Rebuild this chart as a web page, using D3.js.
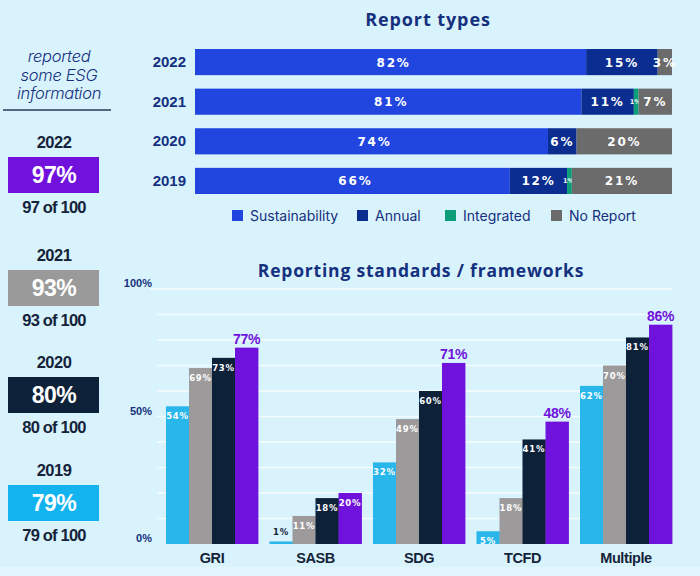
<!DOCTYPE html>
<html><head><meta charset="utf-8">
<script src="https://cdn.jsdelivr.net/npm/d3@7"></script>
<style>
html,body{margin:0;padding:0;background:#d9f3fc;}
svg{display:block;}
</style></head><body>
<svg id="c" width="700" height="576"></svg>
<script>
// ---- Data ----
const summaryYears = ["2022", "2021", "2020", "2019"];
const summaryPct = [97, 93, 80, 79];
const summaryColors = ["#7012dc", "#9a9a9a", "#0d2139", "#12b3ee"];

const reportYears = ["2022", "2021", "2020", "2019"];
const reportTypes = ["Sustainability", "Annual", "Integrated", "No Report"];
const sustainability = [82, 81, 74, 66];
const annual = [15, 11, 6, 12];
const integrated = [0, 1, 0, 1];
const noReport = [3, 7, 20, 21];
const typeColors = ["#2146e0", "#0a2d8f", "#0c9e78", "#6b6b6b"];

const frameworks = ["GRI", "SASB", "SDG", "TCFD", "Multiple"];
const fwSeries = ["s1", "s2", "s3", "s4"];
const fw1 = [54, 1, 32, 5, 62];
const fw2 = [69, 11, 49, 18, 70];
const fw3 = [73, 18, 60, 41, 81];
const fw4 = [77, 20, 71, 48, 86];
const fwColors = ["#29b6ea", "#9c9a9a", "#0d2139", "#6f12dc"];
const yTicks = [0, 50, 100];

const svg = d3.select("#c");
const navy = "#14307e";
const dark = "#15233a";

svg.append("rect").attr("x",0).attr("y",567).attr("width",700).attr("height",9).attr("fill","#e4f6fd");

// ---- Left summary panel ----
const left = svg.append("g");
["reported","some ESG","information"].forEach((t,i)=>{
  left.append("text").attr("x",59).attr("y",62+i*18.5).attr("text-anchor","middle")
    .attr("font-family","Inter, 'Open Sans', sans-serif").attr("font-style","italic").attr("font-weight",300)
    .attr("font-size",16.5).attr("fill",navy).attr("letter-spacing",-0.3).text(t);
});
left.append("line").attr("x1",3).attr("x2",111).attr("y1",110).attr("y2",110).attr("stroke","#243a5e").attr("stroke-width",1.3);

const groupY = [142, 255, 362, 470];
summaryYears.forEach((yr,i)=>{
  const gy = groupY[i];
  left.append("text").attr("x",54).attr("y",gy+6).attr("text-anchor","middle")
    .attr("font-family","'Liberation Sans', Arial, sans-serif").attr("font-weight","bold")
    .attr("font-size",16.5).attr("fill",dark).attr("letter-spacing",-0.5).text(yr);
  left.append("rect").attr("x",8).attr("y",gy+15).attr("width",91).attr("height",36).attr("fill",summaryColors[i]);
  left.append("text").attr("x",54).attr("y",gy+41).attr("text-anchor","middle")
    .attr("font-family","'Liberation Sans', Arial, sans-serif").attr("font-weight","bold")
    .attr("font-size",23).attr("fill","#fff").attr("letter-spacing",-0.5).text(summaryPct[i]+"%");
  left.append("text").attr("x",54).attr("y",gy+71).attr("text-anchor","middle")
    .attr("font-family","'Liberation Sans', Arial, sans-serif").attr("font-weight","bold")
    .attr("font-size",16.5).attr("fill",dark).attr("letter-spacing",-0.8).text(summaryPct[i]+" of 100");
});

// ---- Top chart: Report types ----
svg.append("text").attr("x",428).attr("y",26).attr("text-anchor","middle")
  .attr("font-family","'Open Sans', sans-serif").attr("font-weight","bold")
  .attr("font-size",18).attr("fill",navy).attr("letter-spacing",0.9).text("Report types");

const xTop = d3.scaleLinear().domain([0,100]).range([195,672]);
const yTop = d3.scaleBand().domain(reportYears).range([49,194]).paddingInner(0.34).paddingOuter(0);
const typeArrays = [sustainability, annual, integrated, noReport];
const rows = reportYears.map((y,i)=>{
  const o = {year:y};
  reportTypes.forEach((t,j)=>o[t]=typeArrays[j][i]);
  return o;
});
const stacked = d3.stack().keys(reportTypes)(rows);
const gTop = svg.append("g");
stacked.forEach((layer,j)=>{
  gTop.selectAll(null).data(layer).enter().append("rect")
    .attr("x",d=>xTop(d[0])).attr("width",d=>xTop(d[1])-xTop(d[0]))
    .attr("y",d=>yTop(d.data.year)).attr("height",yTop.bandwidth())
    .attr("fill",typeColors[j]);
  gTop.selectAll(null).data(layer.filter(d=>d[1]-d[0]>0)).enter().append("text")
    .attr("x",d=>{
      const v=d[1]-d[0];
      return (xTop(d[0])+xTop(d[1]))/2 + (v<2 ? -1 : 0) + (j===0?3:0);
    })
    .attr("y",d=>yTop(d.data.year)+yTop.bandwidth()/2+ ((d[1]-d[0])<2?2.5:4.5))
    .attr("text-anchor","middle")
    .attr("font-family","'DejaVu Sans', sans-serif").attr("font-weight","bold")
    .attr("font-size",d=>(d[1]-d[0])<2?6.5:12)
    .attr("letter-spacing",d=>(d[1]-d[0])<2?0:1.8)
    .attr("fill","#fff").text(d=>(d[1]-d[0])+"%");
});
reportYears.forEach(y=>{
  gTop.append("text").attr("x",186).attr("y",yTop(y)+yTop.bandwidth()/2+5).attr("text-anchor","end")
    .attr("font-family","'Liberation Sans', Arial, sans-serif").attr("font-weight","bold")
    .attr("font-size",15).attr("fill",navy).text(y);
});
// legend
const legX = [232, 357, 445, 551];
reportTypes.forEach((t,i)=>{
  gTop.append("rect").attr("x",legX[i]).attr("y",210).attr("width",11).attr("height",11).attr("fill",typeColors[i]);
  gTop.append("text").attr("x",legX[i]+18).attr("y",220.5)
    .attr("font-family","Inter, 'Noto Sans', sans-serif").attr("font-size",14).attr("fill",navy).text(t);
});

// ---- Bottom chart: Reporting standards ----
svg.append("text").attr("x",421).attr("y",277).attr("text-anchor","middle")
  .attr("font-family","'Open Sans', sans-serif").attr("font-weight","bold")
  .attr("font-size",17.5).attr("fill",navy).attr("letter-spacing",0.8).text("Reporting standards / frameworks");

const yB = d3.scaleLinear().domain([0,100]).range([544,289]);
const xB = d3.scaleBand().domain(frameworks).range([166,672]).paddingInner(0.111).paddingOuter(0);
const xS = d3.scaleBand().domain(fwSeries).range([0,xB.bandwidth()]);
const gB = svg.append("g");
// gridlines
gB.selectAll(null).data(d3.range(10,101,10)).enter().append("line")
  .attr("x1",d=>d===100?150:157).attr("x2",672).attr("y1",d=>yB(d)).attr("y2",d=>yB(d))
  .attr("stroke","#f4fcff").attr("stroke-width",1.3);
gB.selectAll(null).data(yTicks).enter().append("text")
  .attr("x",152).attr("y",d=>yB(d)-2).attr("text-anchor","end")
  .attr("font-family","'Liberation Sans', Arial, sans-serif").attr("font-weight","bold")
  .attr("font-size",11).attr("fill",navy).text(d=>d+"%");

const fwArrays = [fw1, fw2, fw3, fw4];
const bars = [];
frameworks.forEach((f,i)=>fwSeries.forEach((s,j)=>bars.push({f,s,j,v:fwArrays[j][i]})));
gB.selectAll(null).data(bars).enter().append("rect")
  .attr("x",d=>xB(d.f)+xS(d.s)).attr("width",xS.bandwidth()+0.4)
  .attr("y",d=>yB(d.v)).attr("height",d=>yB(0)-yB(d.v))
  .attr("fill",d=>fwColors[d.j]);
gB.selectAll(null).data(bars).enter().append("text")
  .attr("x",d=>xB(d.f)+xS(d.s)+xS.bandwidth()/2)
  .attr("y",d=>{
    if (d.j===3 && d.v>30) return yB(d.v)-4;
    if (d.v<3) return yB(d.v)-6;
    return yB(d.v)+13;
  })
  .attr("text-anchor","middle")
  .attr("font-family", d=>(d.j===3&&d.v>30)?"'Liberation Sans', Arial, sans-serif":"'DejaVu Sans', sans-serif")
  .attr("font-weight","bold")
  .attr("font-size",d=>(d.j===3&&d.v>30)?14:8.5)
  .attr("letter-spacing",d=>(d.j===3&&d.v>30)?-0.3:0.8)
  .attr("fill",d=>{
    if (d.j===3 && d.v>30) return fwColors[3];
    if (d.v<3) return dark;
    return "#fff";
  })
  .text(d=>d.v+"%");
frameworks.forEach(f=>{
  gB.append("text").attr("x",xB(f)+xB.bandwidth()/2).attr("y",563).attr("text-anchor","middle")
    .attr("font-family","'Liberation Sans', Arial, sans-serif").attr("font-weight","bold")
    .attr("font-size",14.5).attr("fill",dark).attr("letter-spacing",-0.4).text(f);
});
</script>
</body></html>
